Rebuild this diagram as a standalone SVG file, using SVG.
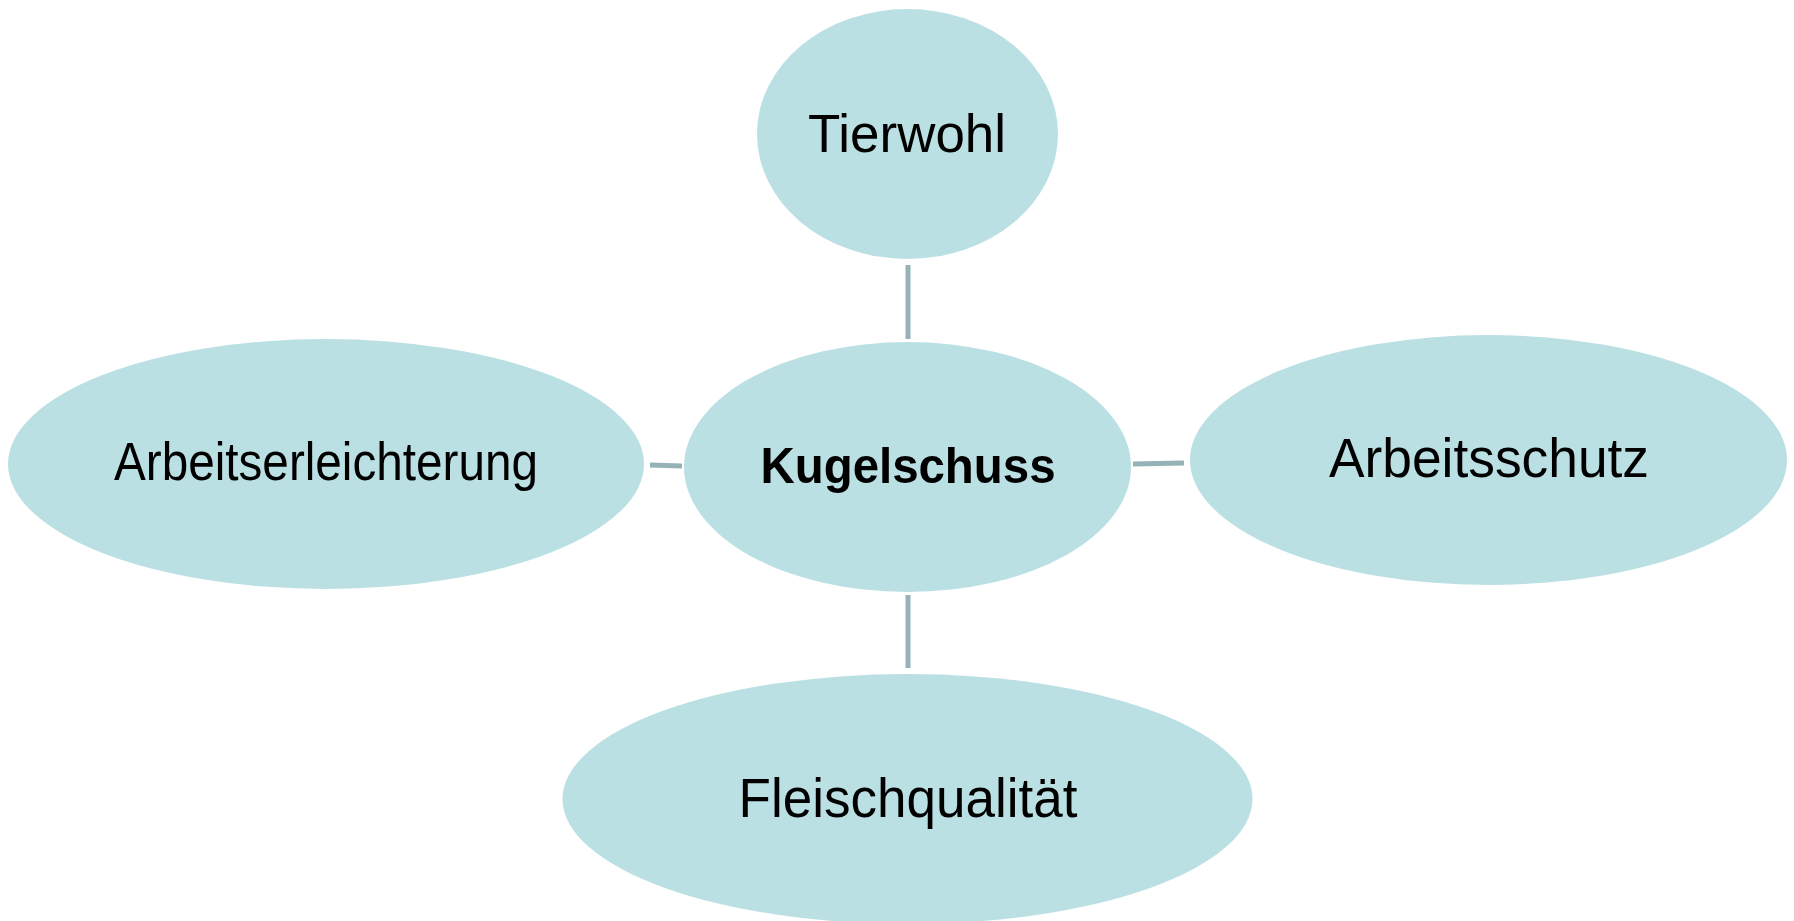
<svg xmlns="http://www.w3.org/2000/svg" width="1794" height="921" viewBox="0 0 1794 921">
<style>
.node{fill:#bbe0e3}
.lbl{font-family:"Liberation Sans",Arial,sans-serif;fill:#000;text-anchor:middle}
.con{stroke:#95b3b7;stroke-width:5;fill:none}
</style>
<rect width="1794" height="921" fill="#ffffff"/>
<g id="connectors">
<line class="con" x1="908" y1="265" x2="908" y2="339"/>
<line class="con" x1="908" y1="595" x2="908" y2="668"/>
<line class="con" x1="650" y1="465" x2="682" y2="466"/>
<line class="con" x1="1133" y1="464" x2="1184" y2="463"/>
</g>
<g id="tierwohl">
<ellipse class="node" cx="907.5" cy="134" rx="150.5" ry="125"/>
<text class="lbl" x="907" y="152" font-size="54" textLength="198" lengthAdjust="spacingAndGlyphs">Tierwohl</text>
</g>
<g id="kugelschuss">
<ellipse class="node" cx="907.5" cy="467" rx="223.5" ry="125"/>
<text class="lbl" x="908" y="483" font-size="50" font-weight="bold" textLength="295" lengthAdjust="spacingAndGlyphs">Kugelschuss</text>
</g>
<g id="arbeitserleichterung">
<ellipse class="node" cx="326" cy="464" rx="318" ry="125"/>
<text class="lbl" x="326" y="480" font-size="54" textLength="424" lengthAdjust="spacingAndGlyphs">Arbeitserleichterung</text>
</g>
<g id="arbeitsschutz">
<ellipse class="node" cx="1488.5" cy="460" rx="298.5" ry="125"/>
<text class="lbl" x="1489" y="477" font-size="55" textLength="320" lengthAdjust="spacingAndGlyphs">Arbeitsschutz</text>
</g>
<g id="fleischqualitaet">
<ellipse class="node" cx="907.5" cy="799" rx="345" ry="125"/>
<text class="lbl" x="908" y="817" font-size="55" textLength="339" lengthAdjust="spacingAndGlyphs">Fleischqualität</text>
</g>
</svg>
